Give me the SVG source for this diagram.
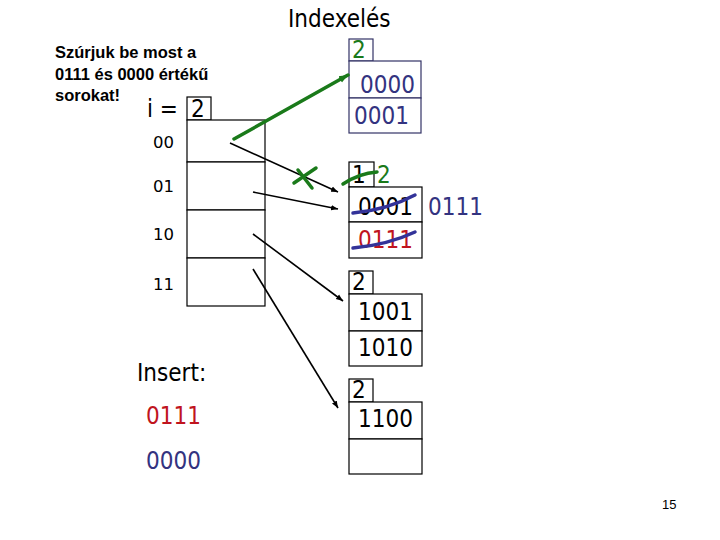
<svg xmlns="http://www.w3.org/2000/svg" width="720" height="540" viewBox="0 0 720 540">
<defs>
<style>
.t{font-family:"DejaVu Sans Condensed","DejaVu Sans",sans-serif;font-size:24px;fill:#000}
.r{font-family:"DejaVu Sans",sans-serif;font-size:16.5px;fill:#000}
.b{fill:#fff;stroke:#000;stroke-width:1.2}
.bb{fill:#fff;stroke:#333366;stroke-width:1.2}
.nv{fill:#333380}
.rd{fill:#c0141e}
.gr{fill:#1a7a1a}
.hd{font-family:"Liberation Sans",Arial,sans-serif;font-weight:bold;font-size:16.5px;fill:#000}
.ln{stroke:#000;stroke-width:1.6;fill:none}
.gl{stroke:#1a7a1a;stroke-width:3.5;fill:none;stroke-linecap:round}
.bl{stroke:#333399;stroke-width:3.5;fill:none;stroke-linecap:round}
</style>
<marker id="ah" viewBox="0 0 10 10" refX="10" refY="5" markerWidth="7" markerHeight="7" orient="auto" markerUnits="userSpaceOnUse">
<path d="M0,1 L10,5 L0,9 z" fill="#000"/>
</marker>
<marker id="ahg" viewBox="0 0 10 10" refX="10" refY="5" markerWidth="9" markerHeight="9" orient="auto" markerUnits="userSpaceOnUse">
<path d="M0,1 L10,5 L0,9 z" fill="#1a7a1a"/>
</marker>
</defs>
<rect width="720" height="540" fill="#fff"/>

<g id="title">
<text class="t" x="288" y="27" font-size="23">Indexelés</text>
</g>
<g id="note">
<text class="hd" x="55" y="58">Szúrjuk be most a</text>
<text class="hd" x="55" y="80">0111 és 0000 értékű</text>
<text class="hd" x="55" y="101">sorokat!</text>
</g>

<g id="directory">
<text class="t" x="147" y="117">i =</text>
<rect class="b" x="187" y="97" width="24" height="23"/>
<text class="t" x="191" y="117">2</text>
<rect class="b" x="187" y="120" width="78" height="42"/>
<rect class="b" x="187" y="162" width="78" height="48"/>
<rect class="b" x="187" y="210" width="78" height="48"/>
<rect class="b" x="187" y="258" width="78" height="48"/>
<text class="r" x="153" y="148">00</text>
<text class="r" x="153" y="192">01</text>
<text class="r" x="153" y="240">10</text>
<text class="r" x="153" y="290">11</text>
</g>

<g id="bucket1">
<rect class="bb" x="349" y="39" width="24" height="22"/>
<text class="t gr" x="352" y="58">2</text>
<rect class="bb" x="349" y="61" width="72" height="37"/>
<rect class="bb" x="349" y="98" width="72" height="35"/>
<text class="t nv" x="360" y="93">0000</text>
<text class="t nv" x="354" y="124">0001</text>
</g>

<g id="bucket2">
<rect class="b" x="349" y="162" width="25" height="25"/>
<text class="t" x="352" y="183">1</text>
<text class="t gr" x="377" y="183">2</text>
<rect class="b" x="349" y="187" width="73" height="35"/>
<rect class="b" x="349" y="222" width="73" height="36"/>
<text class="t" x="358" y="215">0001</text>
<text class="t rd" x="358" y="248">0111</text>
<text class="t nv" x="428" y="215">0111</text>
</g>

<g id="bucket3">
<rect class="b" x="349" y="271" width="24" height="23"/>
<text class="t" x="352" y="290">2</text>
<rect class="b" x="349" y="294" width="73" height="37"/>
<rect class="b" x="349" y="331" width="73" height="35"/>
<text class="t" x="358" y="320">1001</text>
<text class="t" x="358" y="356">1010</text>
</g>

<g id="bucket4">
<rect class="b" x="349" y="379" width="24" height="23"/>
<text class="t" x="352" y="398">2</text>
<rect class="b" x="349" y="402" width="73" height="37"/>
<rect class="b" x="349" y="439" width="73" height="35"/>
<text class="t" x="358" y="427">1100</text>
</g>

<g id="insert">
<text class="t" x="137" y="381" font-size="23">Insert:</text>
<text class="t rd" x="146" y="424">0111</text>
<text class="t nv" x="146" y="469">0000</text>
</g>

<g id="page">
<text x="662" y="509" font-family="Liberation Sans,Arial,sans-serif" font-size="13" fill="#000">15</text>
</g>

<g id="connectors">
<line class="ln" x1="230" y1="143" x2="338" y2="192" marker-end="url(#ah)"/>
<line class="ln" x1="253" y1="192" x2="338" y2="209" marker-end="url(#ah)"/>
<line class="ln" x1="253" y1="234" x2="343" y2="301" marker-end="url(#ah)"/>
<line class="ln" x1="253" y1="269" x2="338" y2="408" marker-end="url(#ah)"/>
<line class="gl" x1="234" y1="139" x2="348" y2="75" stroke-width="2.5" marker-end="url(#ahg)"/>
</g>

<g id="marks">
<path class="gl" d="M298,170 L312,188"/>
<path class="gl" d="M294,183 L316,168"/>
<path class="gl" d="M343,184 C352,178 364,173 377,172"/>
<path class="bl" d="M353,213 C375,211 398,204 415,195"/>
<path class="bl" d="M353,248 C375,246 398,240 415,232"/>
</g>
</svg>
